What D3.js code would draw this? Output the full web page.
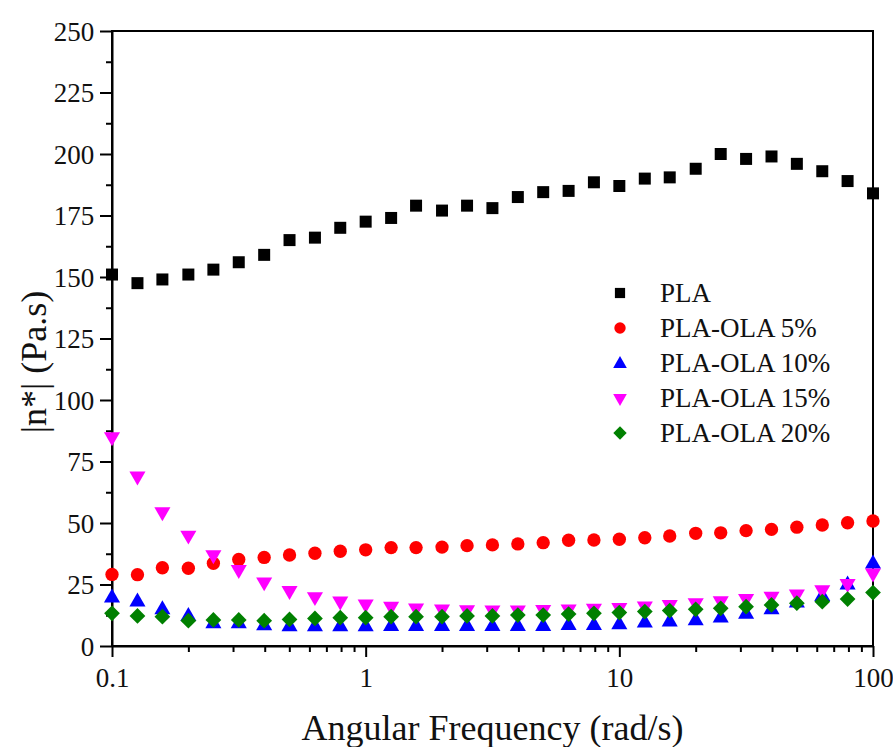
<!DOCTYPE html>
<html>
<head>
<meta charset="utf-8">
<script src="https://cdn.jsdelivr.net/npm/d3@7"></script>
<style>
  body { margin: 0; background: #fff; }
  svg text { font-family: "Liberation Serif", "Times New Roman", serif !important; fill: #111; }
</style>
</head>
<body>
<svg id="chart"></svg>
<script>
// frequency points (rad/s), 10 per decade
const freq = [0.1, 0.126, 0.158, 0.2, 0.251, 0.316, 0.398, 0.501, 0.631, 0.794,
  1, 1.26, 1.58, 2, 2.51, 3.16, 3.98, 5.01, 6.31, 7.94,
  10, 12.6, 15.8, 20, 25.1, 31.6, 39.8, 50.1, 63.1, 79.4, 100];

const pla = [151, 147.5, 149, 151, 153, 156, 159, 165, 166, 170,
  172.5, 174, 179, 177, 179, 178, 182.5, 184.5, 185, 188.5,
  187, 190, 190.5, 194, 200, 198, 199, 196, 193, 189, 184];
const ola5 = [29.1, 29, 31.8, 31.6, 33.6, 35.2, 36, 37, 37.7, 38.5,
  39.1, 40, 40, 40.2, 40.8, 41.1, 41.5, 42, 43, 43.1,
  43.4, 44, 44.7, 45.8, 46, 46.9, 47.4, 48.3, 49.2, 50.1, 50.8];
const ola10 = [20, 18.4, 15.2, 12.5, 9.5, 9.5, 8.7, 8.3, 8.3, 8.3,
  8.3, 8.4, 8.4, 8.4, 8.4, 8.4, 8.4, 8.4, 8.8, 8.8,
  9.1, 9.8, 10.2, 10.7, 11.8, 13.4, 15.2, 17.9, 20.6, 25.3, 33.8];
const ola15 = [85, 69, 54.5, 45, 37, 31, 26, 22.5, 20, 18.2,
  17, 16.1, 15.4, 15, 14.7, 14.6, 14.6, 14.8, 15, 15.3,
  15.6, 16.2, 16.8, 17.5, 18.3, 19.3, 20.2, 21.1, 22.8, 25.3, 29.6];
const ola20 = [13.3, 12.2, 11.9, 10.3, 10.6, 10.6, 10.3, 10.8, 11.2, 11.5,
  11.5, 11.9, 11.9, 11.9, 12.2, 12.2, 12.6, 12.6, 13, 13.3,
  13.6, 14, 14.4, 14.9, 15.3, 16, 16.7, 17.4, 18, 19.1, 21.7];

const seriesNames = ["PLA", "PLA-OLA 5%", "PLA-OLA 10%", "PLA-OLA 15%", "PLA-OLA 20%"];
const xTicks = [0.1, 1, 10, 100];
const yTicks = [0, 25, 50, 75, 100, 125, 150, 175, 200, 225, 250];

const width = 893;
const height = 747;
const margin = { top: 31, right: 20, bottom: 101, left: 112 };

const series = [
  { name: seriesNames[0], values: pla, color: "#000000", shape: "square" },
  { name: seriesNames[1], values: ola5, color: "#ff0000", shape: "circle" },
  { name: seriesNames[2], values: ola10, color: "#0000ff", shape: "up" },
  { name: seriesNames[3], values: ola15, color: "#ff00ff", shape: "down" },
  { name: seriesNames[4], values: ola20, color: "#008000", shape: "diamond" }
];

const svg = d3.select("#chart").attr("width", width).attr("height", height);

const xScale = d3.scaleLog().domain([0.1, 100]).range([margin.left, width - margin.right]);
const yScale = d3.scaleLinear().domain([0, 250]).range([height - margin.bottom, margin.top]);

// symbol generators
function symbolPath(shape) {
  if (shape === "square") return d3.symbol(d3.symbolSquare, 144)();
  if (shape === "circle") return d3.symbol(d3.symbolCircle, 140)();
  if (shape === "up" || shape === "down") return d3.symbol(d3.symbolTriangle, 112)();
  return d3.symbol(d3.symbolSquare, 124)();
}
function symbolTransform(shape, x, y) {
  if (shape === "down") return `translate(${x},${y}) rotate(180)`;
  if (shape === "diamond") return `translate(${x},${y}) rotate(45)`;
  if (shape === "up") return `translate(${x},${y + 1})`;
  return `translate(${x},${y})`;
}

// minor ticks
const xMinor = [];
[0.1, 1, 10].forEach((d) => { for (let k = 2; k <= 9; k++) xMinor.push(d * k); });
const yMinor = d3.range(12.5, 250, 25);

const xAxis = svg.append("g")
  .attr("transform", `translate(0, ${height - margin.bottom})`)
  .call(d3.axisBottom(xScale).tickValues(xTicks).tickFormat(d3.format("~g")).tickSize(11).tickSizeOuter(0));
svg.append("g")
  .attr("transform", `translate(0, ${height - margin.bottom})`)
  .call(d3.axisBottom(xScale).tickValues(xMinor).tickFormat("").tickSize(6).tickSizeOuter(0))
  .call((g) => g.select(".domain").remove());

const yAxis = svg.append("g")
  .attr("transform", `translate(${margin.left}, 0)`)
  .call(d3.axisLeft(yScale).tickValues(yTicks).tickSize(12).tickSizeOuter(0));
svg.append("g")
  .attr("transform", `translate(${margin.left}, 0)`)
  .call(d3.axisLeft(yScale).tickValues(yMinor).tickFormat("").tickSize(6).tickSizeOuter(0))
  .call((g) => g.select(".domain").remove());

svg.selectAll("g").attr("font-family", null);
svg.selectAll(".domain, .tick line").attr("stroke", "#000").attr("stroke-width", 2);
xAxis.selectAll("text").attr("font-size", 27).attr("dy", "1.0em");
yAxis.selectAll("text").attr("font-size", 27).attr("dx", "-0.1em").attr("dy", "0.35em");

// frame
svg.append("rect")
  .attr("x", margin.left).attr("y", margin.top)
  .attr("width", width - margin.left - margin.right)
  .attr("height", height - margin.top - margin.bottom)
  .attr("fill", "none").attr("stroke", "#000").attr("stroke-width", 2);

// points
series.forEach((s) => {
  svg.append("g").selectAll("path")
    .data(s.values)
    .enter()
    .append("path")
    .attr("d", symbolPath(s.shape))
    .attr("transform", (d, i) => symbolTransform(s.shape, xScale(freq[i]), yScale(d)))
    .attr("fill", s.color);
});

// legend
const legend = svg.append("g").attr("transform", "translate(620, 293)");
series.forEach((s, i) => {
  const row = legend.append("g").attr("transform", `translate(0, ${i * 35})`);
  row.append("path")
    .attr("d", symbolPath(s.shape))
    .attr("transform", symbolTransform(s.shape, 0, 0) + " scale(0.85)")
    .attr("fill", s.color);
  row.append("text")
    .attr("x", 40).attr("y", 0).attr("dy", "0.35em")
    .attr("font-size", 27)
    .text(s.name);
});

// axis titles
svg.append("text")
  .attr("x", (margin.left + width - margin.right) / 2)
  .attr("y", 740)
  .attr("text-anchor", "middle")
  .attr("font-size", 36)
  .text("Angular Frequency (rad/s)");

svg.append("text")
  .attr("transform", "translate(46, 362) rotate(-90)")
  .attr("text-anchor", "middle")
  .attr("font-size", 36)
  .text("|n*| (Pa.s)");
</script>
</body>
</html>
